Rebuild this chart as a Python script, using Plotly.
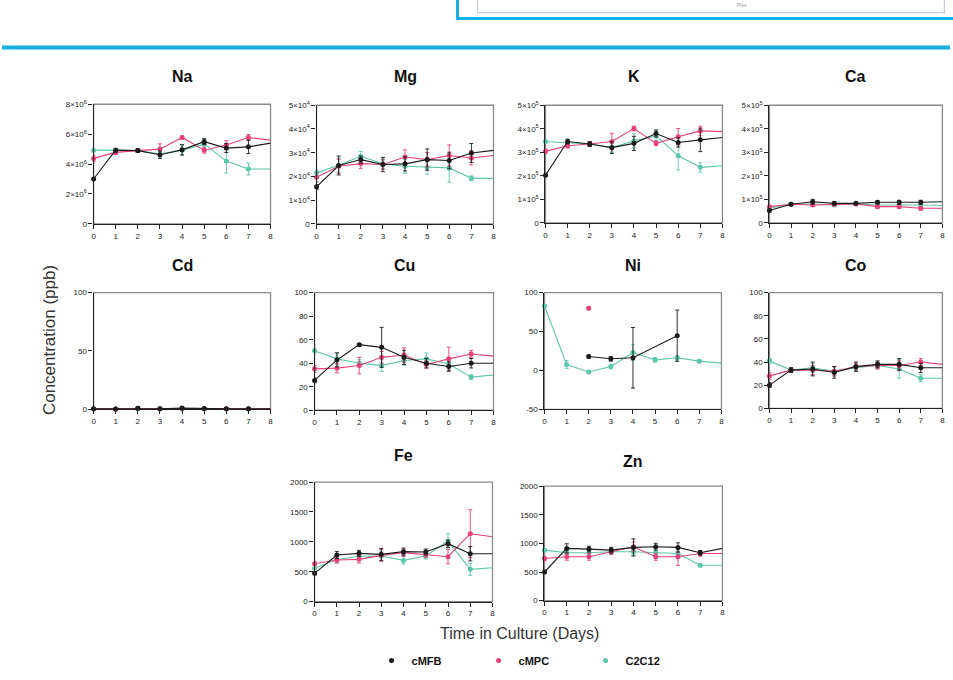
import plotly.graph_objects as go

days = [0, 1, 2, 3, 4, 5, 6, 7, 8]
groups = ["cMFB", "cMPC", "C2C12"]

# ---- data (ppb) ----
na_cmfb = [3.00e6, 4.93e6, 4.90e6, 4.62e6, 4.95e6, 5.50e6, 5.07e6, 5.15e6, 5.40e6]
na_cmpc = [4.38e6, 4.78e6, 4.90e6, 5.00e6, 5.78e6, 4.93e6, 5.27e6, 5.78e6, 5.60e6]
na_c2c12 = [4.93e6, 4.90e6, 4.90e6, 4.67e6, 4.93e6, 5.33e6, 4.20e6, 3.67e6, 3.67e6]
na_cmfb_err = [0.05e6, 0.12e6, 0.12e6, 0.25e6, 0.35e6, 0.2e6, 0.3e6, 0.45e6]
na_cmpc_err = [0.2e6, 0.15e6, 0.1e6, 0.35e6, 0.1e6, 0.2e6, 0.3e6, 0.2e6]
na_c2c12_err = [0.05e6, 0.1e6, 0.1e6, 0.2e6, 0.3e6, 0.3e6, 0.8e6, 0.4e6]

mg_cmfb = [1.56e4, 2.46e4, 2.71e4, 2.50e4, 2.53e4, 2.71e4, 2.67e4, 2.99e4, 3.10e4]
mg_cmpc = [1.97e4, 2.43e4, 2.54e4, 2.50e4, 2.82e4, 2.71e4, 2.88e4, 2.78e4, 2.88e4]
mg_c2c12 = [2.15e4, 2.47e4, 2.85e4, 2.53e4, 2.43e4, 2.39e4, 2.36e4, 1.92e4, 1.92e4]
mg_cmfb_err = [0.1e4, 0.4e4, 0.15e4, 0.3e4, 0.3e4, 0.45e4, 0.35e4, 0.4e4]
mg_cmpc_err = [0.2e4, 0.3e4, 0.2e4, 0.2e4, 0.3e4, 0.3e4, 0.45e4, 0.3e4]
mg_c2c12_err = [0.1e4, 0.3e4, 0.2e4, 0.2e4, 0.3e4, 0.3e4, 0.6e4, 0.1e4]

k_cmfb = [2.03e5, 3.46e5, 3.35e5, 3.20e5, 3.38e5, 3.80e5, 3.42e5, 3.53e5, 3.63e5]
k_cmpc = [3.04e5, 3.28e5, 3.35e5, 3.46e5, 4.01e5, 3.38e5, 3.66e5, 3.91e5, 3.88e5]
k_c2c12 = [3.46e5, 3.42e5, 3.35e5, 3.20e5, 3.49e5, 3.70e5, 2.85e5, 2.36e5, 2.43e5]
k_cmfb_err = [0.05e5, 0.1e5, 0.1e5, 0.25e5, 0.3e5, 0.15e5, 0.2e5, 0.5e5]
k_cmpc_err = [0.1e5, 0.1e5, 0.1e5, 0.35e5, 0.1e5, 0.1e5, 0.35e5, 0.2e5]
k_c2c12_err = [0.05e5, 0.1e5, 0.1e5, 0.2e5, 0.3e5, 0.2e5, 0.6e5, 0.2e5]

ca_cmfb = [0.53e5, 0.79e5, 0.90e5, 0.83e5, 0.83e5, 0.88e5, 0.88e5, 0.88e5, 0.90e5]
ca_cmpc = [0.69e5, 0.79e5, 0.76e5, 0.79e5, 0.80e5, 0.69e5, 0.69e5, 0.62e5, 0.62e5]
ca_c2c12 = [0.62e5, 0.79e5, 0.80e5, 0.76e5, 0.80e5, 0.76e5, 0.76e5, 0.76e5, 0.74e5]
ca_cmfb_err = [0.05e5, 0.05e5, 0.1e5, 0.07e5, 0.05e5, 0.06e5, 0.08e5, 0.08e5]
ca_cmpc_err = [0.05e5, 0.05e5, 0.06e5, 0.05e5, 0.05e5, 0.08e5, 0.08e5, 0.08e5]
ca_c2c12_err = [0.04e5, 0.04e5, 0.05e5, 0.05e5, 0.04e5, 0.05e5, 0.05e5, 0.05e5]

cd_cmfb = [0.4, 0.3, 0.8, 0.5, 1.0, 0.6, 0.5, 0.5, 0.5]
cd_cmpc = [0.3, 0.3, 0.9, 0.4, 0.6, 0.5, 0.4, 0.4, 0.4]
cd_c2c12 = [0.2, 0.2, 0.3, 0.3, 0.3, 0.3, 0.3, 0.3, 0.3]
cd_cmfb_err = [0.3, 0.3, 0.8, 0.5, 1.2, 0.6, 0.5, 0.5]
cd_cmpc_err = [0.3, 0.3, 0.8, 0.4, 0.6, 0.5, 0.4, 0.4]
cd_c2c12_err = [0.2, 0.2, 0.3, 0.3, 0.3, 0.3, 0.3, 0.3]

cu_cmfb = [25.4, 42.8, 55.8, 53.5, 45.0, 40.0, 37.2, 40.0, 40.0]
cu_cmpc = [35.2, 35.8, 38.0, 45.0, 47.0, 38.9, 43.7, 47.9, 46.0]
cu_c2c12 = [50.7, 43.7, 40.0, 38.0, 42.3, 43.7, 39.4, 28.2, 30.0]
cu_cmfb_err = [2, 6, 1, 17, 6, 4, 4, 4]
cu_cmpc_err = [3, 4, 7, 5, 6, 3, 10, 3]
cu_c2c12_err = [2, 5, 3, 5, 4, 5, 5, 2]

ni_cmfb = [None, None, 17.8, 14.9, 16.2, None, 44.6, None, None]
ni_cmpc = [None, None, 80.0, None, None, None, None, None, None]
ni_c2c12 = [82.9, 7.6, -2.0, 5.0, 23.0, 13.6, 16.2, 11.9, 9.4]
ni_cmfb_err = [0, 0, 2, 3, 39, 0, 33, 0]
ni_cmpc_err = [0, 0, 2, 0, 0, 0, 0, 0]
ni_c2c12_err = [1, 5, 2, 3, 10, 3, 3, 2]

co_cmfb = [20, 33, 34, 31, 36, 38, 38, 35, 35]
co_cmpc = [28, 33, 33, 32, 36, 37, 37, 40, 38]
co_c2c12 = [41, 33, 35, 32, 35, 37, 34, 26, 26]
co_cmfb_err = [2, 2, 6, 5, 4, 3, 5, 4]
co_cmpc_err = [3, 2, 4, 4, 3, 3, 4, 3]
co_c2c12_err = [2, 2, 4, 4, 3, 3, 8, 3]

fe_cmfb = [473, 780, 808, 791, 836, 830, 969, 802, 802]
fe_cmpc = [635, 696, 707, 774, 819, 791, 752, 1136, 1086]
fe_c2c12 = [560, 700, 760, 763, 690, 763, 1013, 540, 568]
fe_cmfb_err = [30, 60, 50, 100, 60, 50, 60, 120]
fe_cmpc_err = [40, 50, 60, 100, 60, 50, 120, 400]
fe_c2c12_err = [30, 50, 50, 80, 60, 50, 120, 100]

zn_cmfb = [500, 912, 900, 882, 929, 941, 929, 835, 912]
zn_cmpc = [735, 765, 765, 853, 941, 765, 765, 824, 824]
zn_c2c12 = [882, 835, 835, 853, 853, 835, 824, 618, 618]
zn_cmfb_err = [30, 80, 50, 50, 150, 60, 80, 40]
zn_cmpc_err = [40, 60, 60, 50, 80, 60, 150, 50]
zn_c2c12_err = [30, 50, 40, 40, 60, 50, 60, 30]

# y tick labels
na_ticks = [0, 2e6, 4e6, 6e6, 8e6]
na_labels = ["0", "2×10<sup>6</sup>", "4×10<sup>6</sup>", "6×10<sup>6</sup>", "8×10<sup>6</sup>"]
mg_ticks = [0, 1e4, 2e4, 3e4, 4e4, 5e4]
mg_labels = ["0", "1×10<sup>4</sup>", "2×10<sup>4</sup>", "3×10<sup>4</sup>", "4×10<sup>4</sup>", "5×10<sup>4</sup>"]
k_ticks = [0, 1e5, 2e5, 3e5, 4e5, 5e5]
k_labels = ["0", "1×10<sup>5</sup>", "2×10<sup>5</sup>", "3×10<sup>5</sup>", "4×10<sup>5</sup>", "5×10<sup>5</sup>"]
ca_ticks = [0, 1e5, 2e5, 3e5, 4e5, 5e5]
ca_labels = ["0", "1×10<sup>5</sup>", "2×10<sup>5</sup>", "3×10<sup>5</sup>", "4×10<sup>5</sup>", "5×10<sup>5</sup>"]
cd_ticks = [0, 50, 100]
cu_ticks = [0, 20, 40, 60, 80, 100]
ni_ticks = [-50, 0, 50, 100]
co_ticks = [0, 20, 40, 60, 80, 100]
fe_ticks = [0, 500, 1000, 1500, 2000]
zn_ticks = [0, 500, 1000, 1500, 2000]
x_ticks = [0, 1, 2, 3, 4, 5, 6, 7, 8]

colors = {"cMFB": "#1b1b1b", "cMPC": "#e8417a", "C2C12": "#5cc6ab"}

panels = [
    ("Na", [na_cmfb, na_cmpc, na_c2c12], [na_cmfb_err, na_cmpc_err, na_c2c12_err], na_ticks, na_labels, [0, 8e6], (94, 271, 103, 223)),
    ("Mg", [mg_cmfb, mg_cmpc, mg_c2c12], [mg_cmfb_err, mg_cmpc_err, mg_c2c12_err], mg_ticks, mg_labels, [0, 5e4], (317, 494, 104, 223)),
    ("K", [k_cmfb, k_cmpc, k_c2c12], [k_cmfb_err, k_cmpc_err, k_c2c12_err], k_ticks, k_labels, [0, 5e5], (546, 723, 104, 222)),
    ("Ca", [ca_cmfb, ca_cmpc, ca_c2c12], [ca_cmfb_err, ca_cmpc_err, ca_c2c12_err], ca_ticks, ca_labels, [0, 5e5], (770, 943, 104, 222)),
    ("Cd", [cd_cmfb, cd_cmpc, cd_c2c12], [cd_cmfb_err, cd_cmpc_err, cd_c2c12_err], cd_ticks, None, [0, 100], (94, 271, 292, 409)),
    ("Cu", [cu_cmfb, cu_cmpc, cu_c2c12], [cu_cmfb_err, cu_cmpc_err, cu_c2c12_err], cu_ticks, None, [0, 100], (315, 494, 292, 410)),
    ("Ni", [ni_cmfb, ni_cmpc, ni_c2c12], [ni_cmfb_err, ni_cmpc_err, ni_c2c12_err], ni_ticks, None, [-50, 100], (545, 722, 292, 409)),
    ("Co", [co_cmfb, co_cmpc, co_c2c12], [co_cmfb_err, co_cmpc_err, co_c2c12_err], co_ticks, None, [0, 100], (770, 943, 292, 408)),
    ("Fe", [fe_cmfb, fe_cmpc, fe_c2c12], [fe_cmfb_err, fe_cmpc_err, fe_c2c12_err], fe_ticks, None, [0, 2000], (315, 493, 482, 602)),
    ("Zn", [zn_cmfb, zn_cmpc, zn_c2c12], [zn_cmfb_err, zn_cmpc_err, zn_c2c12_err], zn_ticks, None, [0, 2000], (545, 723, 486, 601)),
]
title_y = {"Na": 75, "Mg": 75, "K": 75, "Ca": 75, "Cd": 265, "Cu": 265, "Ni": 265, "Co": 265, "Fe": 455, "Zn": 461}

W, H = 953, 680
SX, SY = 0.995, 0.987  # compensation for observed render scaling


def px(x):
    return (476.5 + (x - 476.5) / SX) / W


def py(y):
    return 1 - (340 + (y - 340) / SY) / H


fig = go.Figure()
layout = dict(
    width=W, height=H, margin=dict(l=0, r=0, t=0, b=0),
    paper_bgcolor="white", plot_bgcolor="white",
    font=dict(family="Arial, Liberation Sans, sans-serif", color="#222"),
    showlegend=True,
)
shapes = []
annotations = []

for i, (name, series, errs, yt, ylab, yr, box) in enumerate(panels):
    idx = "" if i == 0 else str(i + 1)
    xa, ya = "x" + idx, "y" + idx
    x0, x1, yt_px, yb_px = box
    layout["xaxis" + idx] = dict(
        domain=[px(x0), min(px(x1), 1.0)], anchor=ya, range=[0, 8], tickvals=x_ticks,
        ticktext=[str(v) for v in x_ticks], showline=True, linecolor="#222",
        linewidth=1.3, ticks="outside", ticklen=4, tickwidth=1.2, tickcolor="#222",
        showgrid=False, zeroline=False, tickfont=dict(size=8, color="#222"),
        ticklabeloverflow="allow", fixedrange=True,
    )
    layout["yaxis" + idx] = dict(
        domain=[py(yb_px), py(yt_px)], anchor=xa, range=yr, tickvals=yt,
        ticktext=ylab if ylab else [str(v) for v in yt], showline=True,
        linecolor="#222", linewidth=1.3, ticks="outside", ticklen=4, tickwidth=1.2,
        tickcolor="#222", showgrid=False, zeroline=False,
        tickfont=dict(size=8, color="#222"), ticklabeloverflow="allow", fixedrange=True,
    )
    shapes.append(dict(type="rect", xref=xa + " domain", yref=ya + " domain",
                       x0=0, x1=1, y0=0, y1=1, line=dict(color="#8a8a8a", width=1.3),
                       layer="below"))
    annotations.append(dict(text="<b>" + name + "</b>", x=px((x0 + x1) / 2),
                            y=py(title_y[name]), xref="paper", yref="paper",
                            showarrow=False, font=dict(size=16, color="#111"),
                            xanchor="center", yanchor="middle"))
    for g_i in [2, 1, 0]:
        g = groups[g_i]
        vals = series[g_i]
        err = errs[g_i]
        col = colors[g]
        fig.add_trace(go.Scatter(
            x=days[:8], y=vals[:8], mode="lines+markers", name=g,
            legendgroup=g, showlegend=False,
            xaxis=xa, yaxis=ya, connectgaps=True, cliponaxis=False,
            line=dict(color=col, width=1.1),
            marker=dict(color=col, size=5, symbol="circle"),
            error_y=dict(type="data", array=err, color=col, thickness=0.9, width=2),
        ))
        fig.add_trace(go.Scatter(
            x=days[7:], y=vals[7:], mode="lines", legendgroup=g, showlegend=False,
            xaxis=xa, yaxis=ya, cliponaxis=False,
            line=dict(color=col, width=1.1), hoverinfo="skip",
        ))

for g_i, g in enumerate(groups):
    fig.add_trace(go.Scatter(
        x=[None], y=[None], mode="markers", name=g, legendgroup=g,
        showlegend=True, legendrank=g_i + 1,
        marker=dict(color=colors[g], size=5, symbol="circle",
                    line=dict(color=colors[g], width=0)),
    ))

annotations.append(dict(text="Concentration (ppb)", x=px(50), y=py(340),
                        xref="paper", yref="paper", showarrow=False, textangle=-90,
                        font=dict(size=17, color="#333"), xanchor="center", yanchor="middle"))
annotations.append(dict(text="Time in Culture (Days)", x=px(520), y=py(634),
                        xref="paper", yref="paper", showarrow=False,
                        font=dict(size=16, color="#333"), xanchor="center", yanchor="middle"))
annotations.append(dict(text="Plex", x=px(743), y=py(3), xref="paper", yref="paper",
                        showarrow=False, font=dict(size=5, color="#999"),
                        xanchor="center", yanchor="middle"))

shapes.append(dict(type="rect", xref="paper", yref="paper", x0=px(478), x1=px(945),
                   y0=py(11), y1=1.03, line=dict(color="#c5cfdc", width=1.2),
                   fillcolor="white"))
shapes.append(dict(type="rect", xref="paper", yref="paper", x0=px(458), x1=1.02,
                   y0=py(17), y1=1.03, line=dict(color="#15b0e3", width=3)))
shapes.append(dict(type="line", xref="paper", yref="paper", x0=0, x1=1,
                   y0=py(46), y1=py(46), line=dict(color="#15b0e3", width=4)))

layout["shapes"] = shapes
layout["annotations"] = annotations
layout["legend"] = dict(orientation="h", x=px(372), xanchor="left", y=py(661),
                        yanchor="middle",
                        font=dict(size=11, color="#111", family="Arial, Liberation Sans, sans-serif",
                                  weight="bold"),
                        entrywidth=62, itemwidth=30, bgcolor="rgba(0,0,0,0)")
fig.update_layout(**layout)

page_css = (
    "var h=document.documentElement,b=document.body;"
    "h.style.margin='0';h.style.padding='0';h.style.overflow='hidden';"
    "b.style.margin='0';b.style.padding='0';b.style.overflow='hidden';"
)
fig.write_html("out.html", config={"displayModeBar": False}, post_script=page_css)
